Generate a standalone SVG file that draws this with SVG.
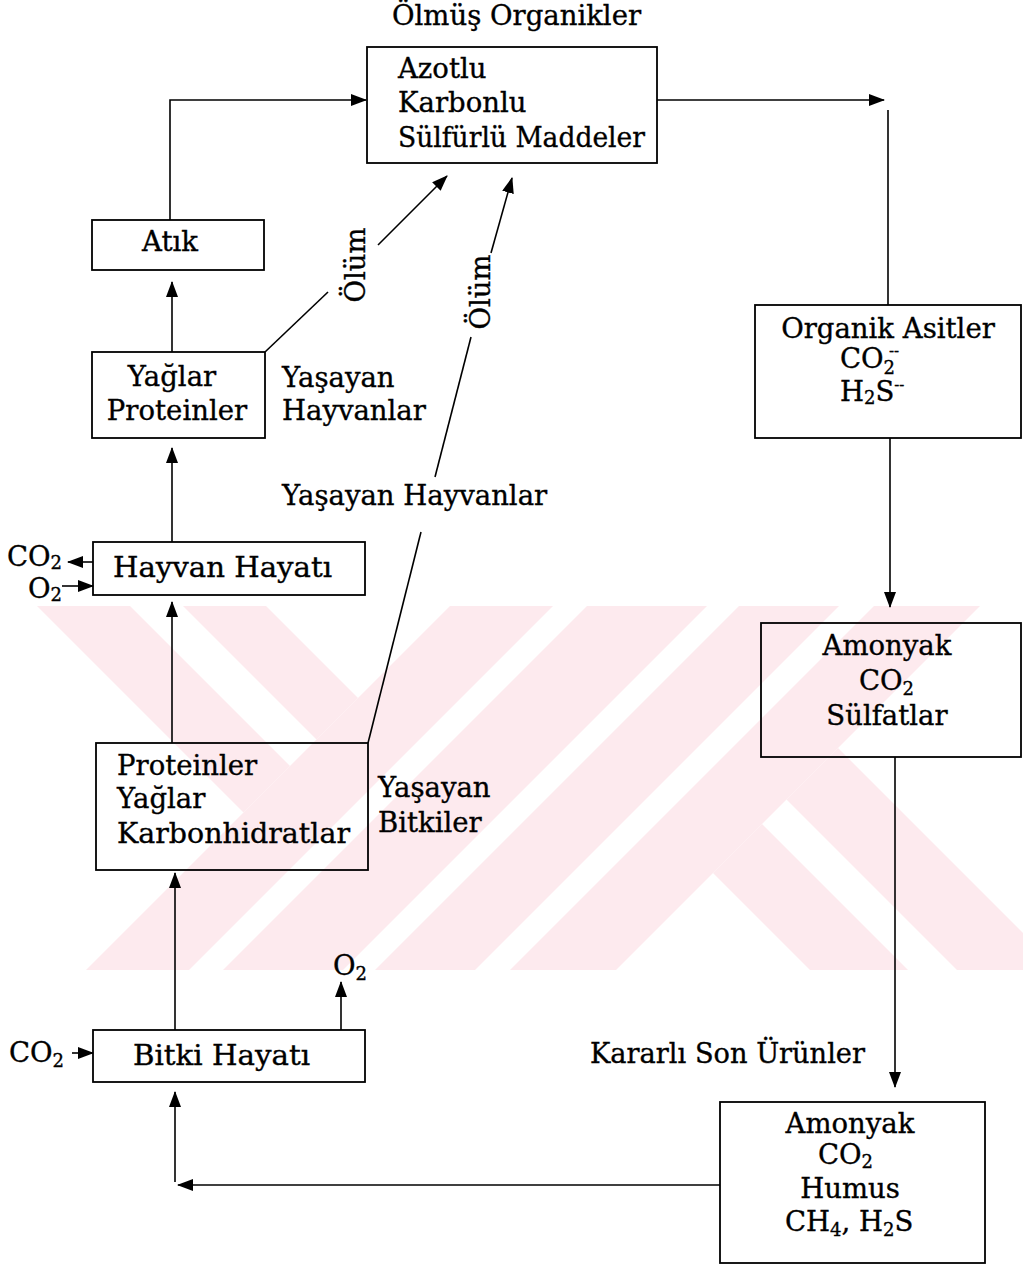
<svg xmlns="http://www.w3.org/2000/svg" width="1023" height="1268" viewBox="0 0 1023 1268">
  <style>
    .t { font-family: "DejaVu Serif", "Liberation Serif", serif; font-size: 27.5px; fill: #000; stroke: #000; stroke-width: 0.35px; }
    .m { text-anchor: middle; }
    .sub { font-size: 18px; }
    .sup { font-size: 15px; }
    .box { fill: none; stroke: #000; stroke-width: 1.8; }
    .ln { fill: none; stroke: #000; stroke-width: 1.6; }
    .arr { marker-end: url(#head); }
    .wm { fill: #fdeaee; }
  </style>
  <defs>
    <marker id="head" markerUnits="userSpaceOnUse" markerWidth="16" markerHeight="12" refX="15" refY="6" orient="auto">
      <path d="M0,0 L16,6 L0,12 z" fill="#000"/>
    </marker>
    <clipPath id="band">
      <rect x="0" y="606" width="1023" height="364"/>
    </clipPath>
  </defs>

  <rect width="1023" height="1268" fill="#fff"/>

  <!-- faint striped emblem behind the lower half -->
  <g id="emblem" clip-path="url(#band)">
    <polygon class="wm" points="37,606 130,606 290,766 243.5,812.5"/>
    <polygon class="wm" points="183,606 266,606 358,698 316.5,739.5"/>
    <polygon class="wm" points="450,606 553,606 189,970 86,970"/>
    <polygon class="wm" points="587,606 707,606 343,970 223,970"/>
    <polygon class="wm" points="739,606 839,606 475,970 375,970"/>
    <polygon class="wm" points="874,606 980,606 616,970 510,970"/>
    <polygon class="wm" points="713,873 762,824 908,970 810,970"/>
    <polygon class="wm" points="786.5,799.5 838,748 1060,970 957,970"/>
  </g>

  <!-- connectors -->
  <g id="connectors">
    <path class="ln arr" d="M170,220 V100 H366"/>
    <path class="ln arr" d="M657,100 H884"/>
    <path class="ln" d="M888,110 V305"/>
    <path class="ln arr" d="M890,438 V607"/>
    <path class="ln arr" d="M895,757 V1087"/>
    <path class="ln arr" d="M720,1185 H178"/>
    <path class="ln arr" d="M175,1182 V1092"/>
    <path class="ln arr" d="M175,1030 V873"/>
    <path class="ln arr" d="M341,1030 V982"/>
    <path class="ln arr" d="M72,1053 H93"/>
    <path class="ln arr" d="M172,743 V602"/>
    <path class="ln arr" d="M93,562 H68"/>
    <path class="ln arr" d="M62,586 H93"/>
    <path class="ln arr" d="M172,542 V448"/>
    <path class="ln arr" d="M172,352 V282"/>
    <!-- death of living animals -->
    <path class="ln" d="M265,352 L328,292"/>
    <path class="ln arr" d="M378,245 L447,176"/>
    <!-- death of living plants -->
    <path class="ln" d="M368,743 L421,532"/>
    <path class="ln" d="M435,477 L471,337"/>
    <path class="ln arr" d="M491,253 L512,178"/>
  </g>

  <g id="olmus-organikler">
    <text class="t" x="392" y="25">Ölmüş Organikler</text>
    <rect class="box" x="367" y="47" width="290" height="116"/>
    <text class="t" x="398" y="78">Azotlu</text>
    <text class="t" x="398" y="112">Karbonlu</text>
    <text class="t" x="398" y="147" textLength="247" lengthAdjust="spacingAndGlyphs">Sülfürlü Maddeler</text>
  </g>

  <g id="atik">
    <rect class="box" x="92" y="220" width="172" height="50"/>
    <text class="t m" x="170" y="251">Atık</text>
  </g>

  <g id="yaglar-proteinler">
    <rect class="box" x="92" y="352" width="173" height="86"/>
    <text class="t m" x="172" y="386">Yağlar</text>
    <text class="t m" x="177" y="420">Proteinler</text>
  </g>

  <g id="yasayan-hayvanlar-label">
    <text class="t" x="282" y="387">Yaşayan</text>
    <text class="t" x="282" y="420">Hayvanlar</text>
  </g>

  <g id="olum-labels">
    <text class="t m" transform="translate(365,265) rotate(-90)">Ölüm</text>
    <text class="t m" transform="translate(490,292) rotate(-90)">Ölüm</text>
  </g>

  <g id="yasayan-hayvanlar-mid">
    <text class="t" x="282" y="505">Yaşayan Hayvanlar</text>
  </g>

  <g id="hayvan-hayati">
    <rect class="box" x="93" y="542" width="272" height="53"/>
    <text class="t" x="113" y="577" textLength="219" lengthAdjust="spacingAndGlyphs">Hayvan Hayatı</text>
    <text class="t" x="7" y="566">CO<tspan class="sub" dy="3">2</tspan></text>
    <text class="t" x="28" y="598">O<tspan class="sub" dy="3">2</tspan></text>
  </g>

  <g id="yasayan-bitkiler">
    <rect class="box" x="96" y="743" width="272" height="127"/>
    <text class="t" x="117" y="775">Proteinler</text>
    <text class="t" x="117" y="808">Yağlar</text>
    <text class="t" x="117" y="843" textLength="233" lengthAdjust="spacingAndGlyphs">Karbonhidratlar</text>
    <text class="t" x="378" y="797">Yaşayan</text>
    <text class="t" x="378" y="832">Bitkiler</text>
  </g>

  <g id="bitki-hayati">
    <rect class="box" x="93" y="1030" width="272" height="52"/>
    <text class="t" x="133" y="1065" textLength="177" lengthAdjust="spacingAndGlyphs">Bitki Hayatı</text>
    <text class="t" x="333" y="975">O<tspan class="sub" dy="5">2</tspan></text>
    <text class="t" x="9" y="1062">CO<tspan class="sub" dy="5">2</tspan></text>
  </g>

  <g id="organik-asitler">
    <rect class="box" x="755" y="305" width="266" height="133"/>
    <text class="t m" x="888" y="338">Organik Asitler</text>
    <text class="t" x="840" y="368">CO<tspan class="sub" dy="6">2</tspan><tspan class="sup" dx="-6" dy="-18">--</tspan></text>
    <text class="t" x="840" y="401">H<tspan class="sub" dy="3">2</tspan><tspan dy="-3">S</tspan><tspan class="sup" dy="-11">--</tspan></text>
  </g>

  <g id="amonyak-sulfatlar">
    <rect class="box" x="761" y="623" width="260" height="134"/>
    <text class="t m" x="887" y="655">Amonyak</text>
    <text class="t" x="859" y="690">CO<tspan class="sub" dy="5">2</tspan></text>
    <text class="t m" x="887" y="725">Sülfatlar</text>
  </g>

  <g id="kararli-son-urunler">
    <text class="t" x="590" y="1063" textLength="275" lengthAdjust="spacingAndGlyphs">Kararlı Son Ürünler</text>
    <rect class="box" x="720" y="1102" width="265" height="161"/>
    <text class="t m" x="850" y="1133">Amonyak</text>
    <text class="t" x="818" y="1164">CO<tspan class="sub" dy="4">2</tspan></text>
    <text class="t m" x="850" y="1198">Humus</text>
    <text class="t" x="785" y="1231">CH<tspan class="sub" dy="5">4</tspan><tspan dy="-5">, H</tspan><tspan class="sub" dy="5">2</tspan><tspan dy="-5">S</tspan></text>
  </g>
</svg>
